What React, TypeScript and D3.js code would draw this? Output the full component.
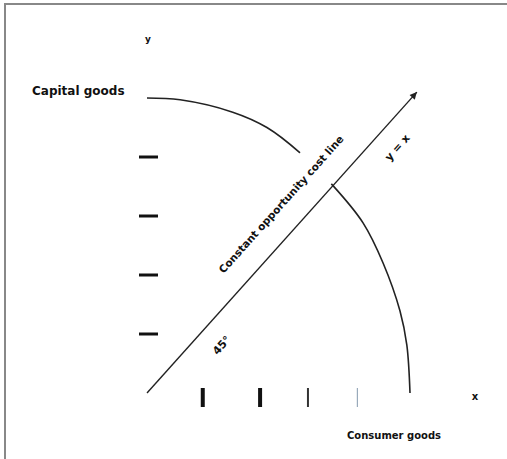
import React from 'react';
import * as d3 from 'd3';

// Frontier points (good X, good Y)
const CURVE_X = [0, 0.63, 1.63, 2.28, 2.91, 3.54, 4.11, 4.49, 4.81, 4.94, 5.0];
const CURVE_Y = [5, 4.97, 4.76, 4.5, 4.07, 3.51, 2.88, 2.2, 1.39, 0.81, 0];

// 45 degree line ends
const LINE_X = [0, 5.13];
const LINE_Y = [0, 5.1];

// tick marks as they sit in the picture
const X_TICKS = [1.06, 2.15, 3.06, 4.0];
const Y_TICKS = [1, 2, 3, 4];

const Y_LABEL = 'Capital goods';
const X_LABEL = 'Consumer goods';
const LINE_LABEL = 'Constant opportunity cost line';
const TOP_NOTE = 'y = x';
const LOW_NOTE = '45°';

export default function App() {
  const W = 507;
  const H = 459;
  const x = d3.scaleLinear().domain([0, 5]).range([147, 410]);
  const y = d3.scaleLinear().domain([0, 5]).range([393, 98]);

  const pts: [number, number][] = CURVE_X.map((v, i) => [v, CURVE_Y[i]]);
  const curve = d3.line<[number, number]>()
    .x(d => x(d[0]))
    .y(d => y(d[1]))
    .curve(d3.curveCatmullRom.alpha(0.5))(pts);

  const lx0 = x(LINE_X[0]), ly0 = y(LINE_Y[0]);
  const lx1 = x(LINE_X[1]), ly1 = y(LINE_Y[1]);
  const ang = Math.atan2(ly1 - ly0, lx1 - lx0) * 180 / Math.PI;

  const font = '"DejaVu Sans", sans-serif';

  // label centre, in data units
  const labX = x(2.56), labY = y(3.19);

  return (
    <svg width={W} height={H} style={{ position: 'absolute', left: 0, top: 0, background: '#fff' }}>
      <rect x={5} y={4} width={W + 10} height={H + 10} fill="#fff" stroke="#888" strokeWidth={2} />

      {/* frontier */}
      <path d={curve || ''} fill="none" stroke="#222" strokeWidth={1.6} />

      {/* white band behind the line label */}
      <g transform={`translate(${labX},${labY}) rotate(${ang})`}>
        <rect x={-96} y={-21} width={192} height={44} fill="#fff" />
      </g>

      {/* 45 degree line */}
      <line x1={lx0} y1={ly0} x2={lx1} y2={ly1} stroke="#222" strokeWidth={1.4} />
      <g transform={`translate(${lx1},${ly1}) rotate(${ang})`}>
        <path d="M0,0 L-7,-3.5 L-7,3.5 Z" fill="#222" />
      </g>

      <text transform={`translate(${labX},${labY}) rotate(${ang})`} textAnchor="middle" dominantBaseline="middle"
        fontFamily={font} fontSize={10.5} fontWeight="bold" fill="#111">{LINE_LABEL}</text>

      <text transform={`translate(${x(4.77)},${y(4.15)}) rotate(${ang})`} textAnchor="middle" dominantBaseline="middle"
        fontFamily={font} fontSize={11} fontWeight="bold" fill="#111">{TOP_NOTE}</text>
      <text transform={`translate(${x(1.43)},${y(0.8)}) rotate(${ang})`} textAnchor="middle" dominantBaseline="middle"
        fontFamily={font} fontSize={11} fontWeight="bold" fill="#111">{LOW_NOTE}</text>

      {/* y ticks */}
      {Y_TICKS.map(t => (
        <line key={'y' + t} x1={139} x2={158} y1={y(t)} y2={y(t)} stroke="#111" strokeWidth={3} />
      ))}
      {/* x ticks */}
      {X_TICKS.map((t, i) => (
        <line key={'x' + t} x1={x(t)} x2={x(t)} y1={388} y2={407}
          stroke={i < 2 ? '#111' : i === 2 ? '#333' : '#9ab'} strokeWidth={i < 2 ? 4 : i === 2 ? 2 : 1.2} />
      ))}

      {/* axis end marks */}
      <text x={148} y={42} textAnchor="middle" fontFamily={font} fontSize={9} fontWeight="bold" fill="#111">y</text>
      <text x={475} y={400} textAnchor="middle" fontFamily={font} fontSize={10} fontWeight="bold" fill="#111">x</text>

      <text x={32} y={95} fontFamily={font} fontSize={12} fontWeight="bold" fill="#111">{Y_LABEL}</text>
      <text x={347} y={439} fontFamily={font} fontSize={10} fontWeight="bold" fill="#111">{X_LABEL}</text>
    </svg>
  );
}
